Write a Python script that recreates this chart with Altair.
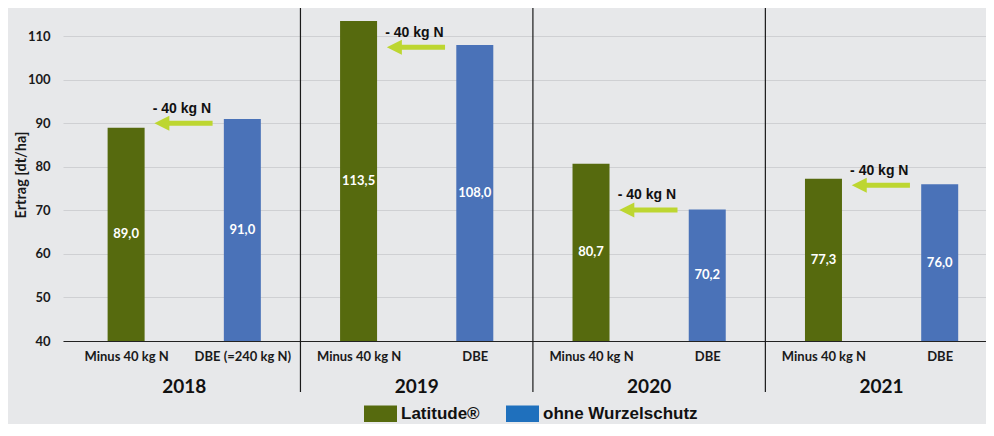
import altair as alt
import pandas as pd

# ---- data ----
years = ["2018", "2019", "2020", "2021"]
treatments = [["Minus 40 kg N", "DBE (=240 kg N)"],
              ["Minus 40 kg N", "DBE"],
              ["Minus 40 kg N", "DBE"],
              ["Minus 40 kg N", "DBE"]]
latitude = [89.0, 113.5, 80.7, 77.3]
ohne = [91.0, 108.0, 70.2, 76.0]
series = ["Latitude®", "ohne Wurzelschutz"]
arrow_y = [90.0, 107.5, 70.1, 75.8]
arrow_text_y = [93.3, 110.7, 73.5, 79.0]
arrow_label = "- 40 kg N"
y_ticks = [40, 50, 60, 70, 80, 90, 100, 110]

# ---- styling ----
BG = "#E7E8EA"
GREEN = "#566A0E"
BLUE = "#4A72B8"
LEG_BLUE = "#1F70BD"
ARROW = "#BDD631"
FONT = "Lato"
ARIAL = "Liberation Sans"
PLOT_W = 923
PLOT_H = 333
GROUP_PX = 235
XMAX = PLOT_W / GROUP_PX
YMIN, YMAX = 40, 116.5

rows = []
for i, yr in enumerate(years):
    for j, vals in enumerate([latitude, ohne]):
        v = vals[i]
        rows.append({
            "year": yr, "idx": i, "pos": i + 0.25 + 0.5 * j, "value": v,
            "base": 40, "series": series[j], "treat": treatments[i][j],
            "label": f"{v:.1f}".replace(".", ","),
        })
bars_df = pd.DataFrame(rows)

arrow_df = pd.DataFrame({
    "idx": list(range(len(years))),
    "ay": arrow_y,
    "ty": arrow_text_y,
    "txt": [arrow_label] * len(years),
})
year_df = pd.DataFrame({"year": years, "idx": list(range(len(years)))})
div_df = pd.DataFrame({"d": list(range(1, len(years)))})

xscale = alt.Scale(domain=[0, XMAX], nice=False, zero=False)
yscale = alt.Scale(domain=[YMIN, YMAX], nice=False, zero=False)

tick_vals = [i + 0.25 + 0.5 * j for i in range(len(years)) for j in range(2)]
flat_labels = [t for pair in treatments for t in pair]
label_expr = "[" + ",".join(f"'{t}'" for t in flat_labels) + "][round(datum.value*2-0.5)]"

x_axis = alt.Axis(values=tick_vals, labelExpr=label_expr, grid=False, ticks=False,
                  tickSize=0, domainColor="#222222", domainWidth=1.2, title=None,
                  labelFont=FONT, labelFontWeight="bold", labelFontSize=13,
                  labelColor="#1a1a1a", labelPadding=9)
y_axis = alt.Axis(values=y_ticks, grid=True, gridColor="#CFD0D3", gridWidth=1,
                  ticks=False, tickSize=0, domain=False, title="Ertrag [dt/ha]",
                  titleFont=FONT, titleFontWeight="bold", titleFontSize=14.5,
                  titleColor="#1a1a1a", titleX=-35, titleBaseline="bottom",
                  labelFont=FONT, labelFontWeight="bold", labelFontSize=13,
                  labelColor="#1a1a1a", labelPadding=13)


def X(field):
    return alt.X(field, type="quantitative", scale=xscale, axis=x_axis)


def Y(field):
    return alt.Y(field, type="quantitative", scale=yscale, axis=y_axis)


bars = alt.Chart(bars_df).mark_bar(size=37).encode(
    x=X("pos"),
    y=Y("value"),
    y2=alt.Y2("base:Q"),
    color=alt.Color("series:N", scale=alt.Scale(domain=series, range=[GREEN, BLUE]), legend=None),
)

legend_layer = alt.Chart(bars_df).mark_bar(size=37, opacity=0).encode(
    x=X("pos"),
    y=Y("value"),
    y2=alt.Y2("base:Q"),
    color=alt.Color("series:N", scale=alt.Scale(domain=series, range=[GREEN, LEG_BLUE]),
                    legend=alt.Legend(orient="none", legendX=301, legendY=389,
                                      direction="horizontal", title=None,
                                      symbolType="M-1,-0.5H1V0.5H-1Z", symbolSize=1089,
                                      symbolOpacity=1, symbolStrokeWidth=0,
                                      labelFont=ARIAL, labelFontWeight="bold",
                                      labelFontSize=17, labelColor="#111111",
                                      labelOffset=4, columnPadding=26, padding=0)),
)

value_labels = alt.Chart(bars_df).transform_calculate(
    mid="(datum.value + datum.base) / 2"
).mark_text(font=FONT, fontWeight="bold", fontSize=13, color="white", baseline="middle").encode(
    x=X("pos"),
    y=Y("mid"),
    text="label:N",
)

arrow_base = alt.Chart(arrow_df).transform_calculate(
    tip="datum.idx + 0.372",
    head="datum.idx + 0.372 + 7.5/" + str(GROUP_PX),
    tail="datum.idx + 0.622",
    tx="datum.idx + 0.49",
)

arrow_shaft = arrow_base.mark_rule(color=ARROW, strokeWidth=5).encode(
    x=X("head"),
    x2="tail:Q",
    y=Y("ay"),
)
arrow_head = arrow_base.mark_point(shape="M-1,0L1,-1L1,1Z", size=225, filled=True,
                                   color=ARROW, opacity=1, strokeWidth=0).encode(
    x=X("head"),
    y=Y("ay"),
)
arrow_text = arrow_base.mark_text(font=ARIAL, fontWeight="bold", fontSize=14,
                                  color="#111111", baseline="middle").encode(
    x=X("tx"),
    y=Y("ty"),
    text="txt:N",
)

dividers = alt.Chart(div_df).mark_rule(color="#1a1a1a", strokeWidth=1.2).encode(
    x=X("d"),
    y=alt.value(0),
    y2=alt.value(384),
)

year_labels = alt.Chart(year_df).transform_calculate(
    c="datum.idx + 0.5"
).mark_text(font=FONT, fontWeight="bold", fontSize=19, color="#111111", baseline="middle").encode(
    x=X("c"),
    y=alt.value(379),
    text="year:N",
)

chart = alt.layer(
    bars, legend_layer, value_labels, dividers, arrow_shaft, arrow_head, arrow_text, year_labels
).resolve_scale(color="independent").properties(
    width=PLOT_W, height=PLOT_H,
    autosize=alt.AutoSizeParams(type="none"),
    padding={"left": 55, "top": 0, "right": 0, "bottom": 83},
    background=BG,
).configure_view(stroke=None)

chart.save("out.html", embed_options={"renderer": "svg", "actions": False})
